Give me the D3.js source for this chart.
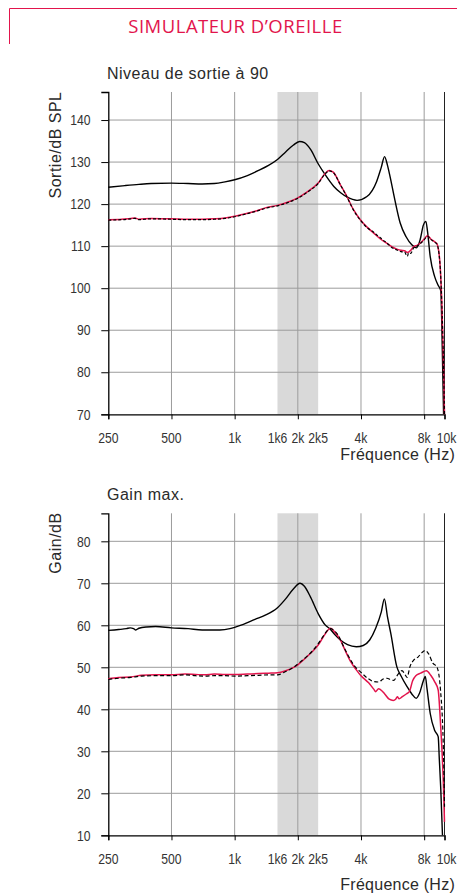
<!DOCTYPE html>
<html>
<head>
<meta charset="utf-8">
<script src="https://cdn.jsdelivr.net/npm/d3@7"></script>
<style>
  html, body { margin: 0; padding: 0; background: #fff; }
  svg { display: block; }
  .tick-label { font-family: "Liberation Sans", Arial, sans-serif; font-size: 14.5px; fill: #333; }
  .lbl { font-family: "Liberation Sans", Arial, sans-serif; fill: #2a2a2a; }
</style>
</head>
<body>
<svg id="chart" width="457" height="893"></svg>
<script>
// ---------- DATA ----------
const chartTitle = "SIMULATEUR D\u2019OREILLE";
const panelTitles = ["Niveau de sortie \u00e0 90", "Gain max."];
const yAxisTitles = ["Sortie/dB SPL", "Gain/dB"];
const xAxisTitle = "Fr\u00e9quence (Hz)";

const xTickValues = [250, 500, 1000, 1600, 2000, 2500, 4000, 8000, 10000];
const xTickLabels = ["250", "500", "1k", "1k6", "2k", "2k5", "4k", "8k", "10k"];
const xGridValues = [500, 1000, 2000, 4000, 8000];
const xTickMarks = [250, 500, 1000, 2000, 4000, 8000, 10000];
const bandRange = [1600, 2500];

const outYTicks = [70, 80, 90, 100, 110, 120, 130, 140];
const gainYTicks = [10, 20, 30, 40, 50, 60, 70, 80];

// Output level @ 90 dB input : solid black (high curve)
const outHighFreq = [250, 300, 350, 400, 500, 600, 700, 800, 900, 1000, 1150, 1300, 1450, 1600, 1750, 1900, 2040, 2150, 2300, 2500, 2700, 2970, 3200, 3430, 3830, 4270, 4750, 5000, 5180, 5350, 5500, 5800, 6150, 6550, 7000, 7350, 7650, 7930, 8150, 8300, 8550, 8970, 9300, 9600, 9700, 9800, 9900];
const outHigh     = [124.0, 124.4, 124.7, 124.9, 125.0, 124.9, 124.8, 124.9, 125.3, 125.8, 126.8, 128.0, 129.2, 130.6, 132.4, 134.0, 134.9, 134.6, 133.0, 129.6, 127.0, 124.2, 122.7, 121.7, 120.9, 121.8, 125.4, 128.8, 131.3, 129.2, 126.6, 121.0, 115.5, 112.3, 110.3, 109.6, 111.5, 115.0, 115.9, 113.5, 107.5, 102.8, 100.8, 99.4, 92.0, 81.0, 70.0];

// Output level : solid red
const outRedFreq = [250, 290, 320, 335, 350, 400, 500, 600, 700, 800, 900, 1000, 1100, 1250, 1400, 1600, 1800, 2000, 2200, 2500, 2700, 2820, 2950, 3190, 3430, 3690, 3970, 4300, 4600, 4950, 5300, 5600, 5930, 6200, 6450, 6650, 6900, 7130, 7400, 7660, 8000, 8300, 8600, 9000, 9200, 9500, 9700, 9900, 10000];
const outRed     = [116.3, 116.4, 116.6, 116.7, 116.4, 116.6, 116.5, 116.4, 116.4, 116.5, 116.7, 117.1, 117.6, 118.3, 119.1, 119.7, 120.5, 121.5, 122.8, 125.0, 127.3, 128.0, 127.6, 124.6, 121.8, 118.6, 116.3, 114.4, 113.1, 111.7, 110.7, 109.9, 109.3, 109.0, 108.9, 108.5, 109.0, 109.9, 110.2, 110.7, 111.7, 112.5, 111.7, 111.0, 110.6, 106.3, 97.0, 81.0, 70.0];

// Output level : dashed black
const outDashFreq = [250, 290, 320, 335, 350, 400, 500, 600, 700, 800, 900, 1000, 1100, 1250, 1400, 1600, 1800, 2000, 2200, 2500, 2700, 2820, 2950, 3190, 3430, 3690, 3970, 4300, 4600, 4800, 4950, 5100, 5300, 5600, 5930, 6200, 6450, 6650, 6750, 6900, 7130, 7400, 7660, 8000, 8300, 8600, 9000, 9200, 9500, 9700, 9900, 10000];
const outDash     = [116.2, 116.3, 116.5, 116.6, 116.3, 116.5, 116.4, 116.3, 116.3, 116.4, 116.6, 117.0, 117.5, 118.2, 119.0, 119.6, 120.4, 121.4, 122.7, 124.9, 127.2, 127.9, 127.5, 124.6, 121.7, 118.5, 116.2, 114.3, 113.3, 112.5, 112.0, 111.4, 110.8, 109.7, 109.1, 108.7, 108.6, 107.6, 108.4, 108.3, 109.6, 110.0, 110.6, 111.5, 112.4, 111.6, 110.9, 110.5, 106.2, 97.0, 81.0, 70.0];

// Max gain : solid black (high curve)
const gainHighFreq = [250, 280, 305, 318, 330, 338, 350, 380, 420, 500, 600, 700, 850, 950, 1000, 1100, 1250, 1400, 1600, 1750, 1900, 2050, 2150, 2300, 2500, 2700, 2850, 3000, 3190, 3450, 3800, 4100, 4400, 4700, 5000, 5170, 5350, 5550, 5930, 6200, 6630, 7000, 7330, 7600, 7930, 8100, 8250, 8550, 8970, 9330, 9450, 9600, 9780];
const gainHigh     = [58.8, 59.0, 59.2, 59.4, 59.2, 58.9, 59.3, 59.6, 59.7, 59.4, 59.2, 58.9, 58.9, 59.2, 59.5, 60.2, 61.4, 62.4, 64.2, 66.3, 68.6, 70.0, 69.3, 66.7, 62.8, 60.1, 59.1, 57.8, 56.5, 55.4, 54.9, 55.2, 56.5, 59.3, 63.2, 66.3, 62.0, 58.0, 50.1, 48.0, 45.4, 43.6, 42.6, 43.8, 46.8, 47.8, 45.0, 39.0, 35.0, 33.5, 28.0, 21.0, 10.0];

// Max gain : solid red
const gainRedFreq = [250, 280, 320, 360, 420, 500, 580, 650, 720, 800, 900, 1000, 1150, 1300, 1450, 1600, 1750, 1910, 2000, 2210, 2350, 2500, 2650, 2800, 2870, 2950, 3190, 3350, 3560, 3800, 4000, 4350, 4600, 4700, 4850, 4950, 5200, 5450, 5700, 5850, 5960, 6080, 6300, 6600, 6800, 7050, 7300, 7700, 8200, 8600, 8970, 9330, 9570, 9900, 10000];
const gainRed     = [47.3, 47.6, 47.7, 48.1, 48.2, 48.2, 48.4, 48.3, 48.2, 48.4, 48.3, 48.3, 48.4, 48.5, 48.6, 48.7, 49.2, 50.0, 50.6, 52.5, 53.8, 55.3, 57.3, 59.0, 59.3, 58.8, 56.5, 54.2, 51.5, 49.4, 48.0, 46.3, 44.8, 44.2, 44.9, 44.7, 43.6, 42.4, 42.1, 42.4, 43.0, 42.5, 43.0, 43.7, 44.2, 46.8, 48.0, 48.6, 49.2, 48.1, 46.6, 44.6, 36.7, 20.8, 13.2];

// Max gain : dashed black
const gainDashFreq = [250, 280, 320, 360, 420, 500, 580, 650, 720, 800, 900, 1000, 1150, 1300, 1450, 1600, 1750, 1910, 2000, 2210, 2350, 2500, 2650, 2800, 2870, 2950, 3100, 3300, 3500, 3700, 4000, 4300, 4600, 4850, 5100, 5320, 5550, 5720, 6000, 6270, 6450, 6630, 6850, 7130, 7500, 7800, 8100, 8400, 8800, 9200, 9570, 9900, 10000];
const gainDash     = [47.1, 47.4, 47.6, 47.9, 48.0, 48.0, 48.2, 48.0, 47.9, 48.0, 48.0, 47.9, 48.0, 48.1, 48.2, 48.2, 49.0, 50.0, 50.8, 52.6, 53.9, 55.6, 57.5, 59.0, 59.2, 58.9, 57.8, 55.0, 52.5, 50.5, 48.8, 47.4, 46.6, 46.5, 47.2, 47.4, 47.0, 46.9, 48.3, 49.2, 48.5, 47.6, 50.2, 51.7, 52.5, 53.5, 54.0, 53.2, 51.0, 50.1, 44.6, 28.7, 16.8];

// ---------- DRAW ----------
const RED = "#e2144c";
const NARROW = 0.84;
const svg = d3.select("#chart");

// header frame + title
svg.append("path")
  .attr("d", "M9.5,44 L9.5,8.5 L457,8.5")
  .attr("fill", "none").attr("stroke", RED).attr("stroke-width", 1);
svg.append("text")
  .attr("x", 235.5).attr("y", 33)
  .attr("text-anchor", "middle")
  .attr("font-family", "'Open Sans', 'Liberation Sans', sans-serif")
  .attr("font-size", 18.5)
  .attr("letter-spacing", 0.5)
  .attr("fill", RED)
  .text(chartTitle);

const x = d3.scaleLog().domain([250, 10000]).range([108.3, 444.5]);

function drawPanel(cfg) {
  const y = d3.scaleLinear().domain(cfg.yDomain).range([cfg.bottom, cfg.top]);
  const g = svg.append("g");

  // band
  g.append("rect")
    .attr("x", x(bandRange[0])).attr("y", cfg.top)
    .attr("width", x(bandRange[1]) - x(bandRange[0]))
    .attr("height", cfg.bottom - cfg.top)
    .attr("fill", "#d9d9d9");

  // vertical grid
  g.append("g").selectAll("line").data(xGridValues).join("line")
    .attr("x1", d => x(d)).attr("x2", d => x(d))
    .attr("y1", cfg.top).attr("y2", cfg.bottom)
    .attr("stroke", "#9c9c9c").attr("stroke-width", 1);

  // horizontal grid
  g.append("g").selectAll("line").data(cfg.yTicks.slice(1)).join("line")
    .attr("x1", x(250)).attr("x2", x(10000))
    .attr("y1", d => y(d)).attr("y2", d => y(d))
    .attr("stroke", "#9c9c9c").attr("stroke-width", 1);

  // right border (10k)
  g.append("line")
    .attr("x1", x(10000)).attr("x2", x(10000))
    .attr("y1", cfg.top).attr("y2", cfg.bottom)
    .attr("stroke", "#222").attr("stroke-width", 1);

  // y axis (line + ticks)
  const yAxis = d3.axisLeft(y).tickValues(cfg.yTicks).tickSize(7).tickFormat("");
  const ya = g.append("g").attr("transform", `translate(${x(250)},0)`).call(yAxis);
  ya.select(".domain").attr("stroke", "#000").attr("stroke-width", 1.3);
  ya.selectAll(".tick line").attr("stroke", "#000").attr("stroke-width", 1);

  // y tick labels (condensed)
  g.append("g").selectAll("text").data(cfg.yTicks).join("text")
    .attr("class", "tick-label")
    .attr("transform", d => `translate(90.5,${y(d) + 5.2}) scale(${NARROW},1)`)
    .attr("text-anchor", "end")
    .text(d => d3.format("d")(d));

  // x axis line
  const xAxis = d3.axisBottom(x).tickValues(xTickMarks).tickSize(5).tickFormat("");
  const xa = g.append("g").attr("transform", `translate(0,${cfg.bottom})`).call(xAxis);
  xa.select(".domain").attr("stroke", "#000").attr("stroke-width", 1.3);
  xa.selectAll(".tick line").attr("stroke", "#000").attr("stroke-width", 1);

  // x tick labels (condensed)
  g.append("g").selectAll("text").data(xTickValues).join("text")
    .attr("class", "tick-label")
    .attr("transform", d => `translate(${x(d) + (d === 10000 ? 2 : 0)},${cfg.bottom + 29}) scale(${NARROW},1)`)
    .attr("text-anchor", "middle")
    .text((d, i) => xTickLabels[i]);

  // lines
  const line = d3.line().x(d => x(d[0])).y(d => y(d[1])).curve(d3.curveMonotoneX);
  cfg.series.forEach(s => {
    const pts = s.f.map((f, i) => [f, s.v[i]]);
    g.append("path")
      .datum(pts)
      .attr("d", line)
      .attr("fill", "none")
      .attr("stroke", s.color)
      .attr("stroke-width", s.width)
      .attr("stroke-dasharray", s.dash || null)
      .attr("stroke-linejoin", "round");
  });

  // panel title
  g.append("text").attr("class", "lbl")
    .attr("x", 107).attr("y", cfg.titleY)
    .attr("font-size", 16).attr("letter-spacing", 0.5)
    .text(cfg.title);

  // y axis title
  g.append("text").attr("class", "lbl")
    .attr("transform", `translate(61,${cfg.yTitleY}) rotate(-90)`)
    .attr("text-anchor", "middle")
    .attr("font-size", 16).attr("letter-spacing", 0.5)
    .text(cfg.yTitle);

  // x axis title
  g.append("text").attr("class", "lbl")
    .attr("x", 455).attr("y", cfg.xTitleY)
    .attr("text-anchor", "end")
    .attr("font-size", 16).attr("letter-spacing", 0.25)
    .text(xAxisTitle);
}

drawPanel({
  top: 92, bottom: 414.3, yDomain: [70, 146.67], yTicks: outYTicks,
  title: panelTitles[0], titleY: 78.5, yTitle: yAxisTitles[0], yTitleY: 145, xTitleY: 459.5,
  series: [
    { f: outHighFreq, v: outHigh, color: "#000", width: 1.4 },
    { f: outRedFreq, v: outRed, color: RED, width: 1.5 },
    { f: outDashFreq, v: outDash, color: "#000", width: 1.2, dash: "3,2" }
  ]
});

drawPanel({
  top: 513.3, bottom: 835.3, yDomain: [10, 86.67], yTicks: gainYTicks,
  title: panelTitles[1], titleY: 500, yTitle: yAxisTitles[1], yTitleY: 543, xTitleY: 889.5,
  series: [
    { f: gainHighFreq, v: gainHigh, color: "#000", width: 1.4 },
    { f: gainRedFreq, v: gainRed, color: RED, width: 1.5 },
    { f: gainDashFreq, v: gainDash, color: "#000", width: 1.2, dash: "4,2.5" }
  ]
});
</script>
</body>
</html>
